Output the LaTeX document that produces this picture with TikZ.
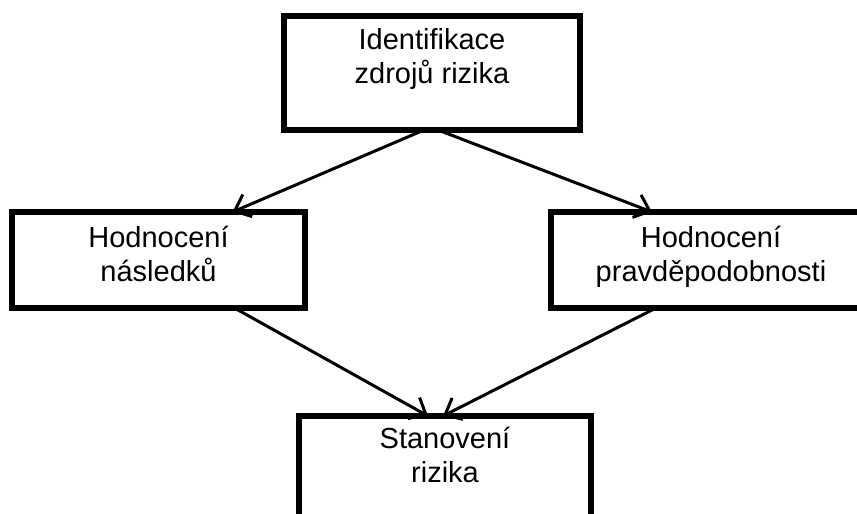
\documentclass[tikz,border=0pt]{standalone}
\usepackage{fontspec}
\setmainfont{Liberation Sans}
\usetikzlibrary{arrows.meta}
\tikzset{
  boxnode/.style={draw=black, line width=5.5pt, fill=white, inner sep=0pt, outer sep=0pt},
  txt/.style={inner sep=0pt, outer sep=0pt, align=center, anchor=north, font={\fontsize{29}{34}\selectfont}},
  arr/.style={draw=black, line width=3pt, -{Straight Barb[length=14pt,width=24pt,line width=3pt]}}
}
\begin{document}
\begin{tikzpicture}[x=1pt,y=-1pt]
\useasboundingbox (0,0) rectangle (857,514);
\clip (0,0) rectangle (857,514);
\fill[white] (0,0) rectangle (857,514);
\node[boxnode, minimum width=296pt, minimum height=114pt] (T) at (432,73) {};
\node[boxnode, minimum width=293pt, minimum height=96pt] (L) at (158.5,260) {};
\node[boxnode, minimum width=320pt, minimum height=96pt] (R) at (711,260) {};
\node[boxnode, minimum width=292pt, minimum height=112pt] (B) at (445,472) {};
\node[txt] (tT) at ([yshift=-12pt]T.north) {Identifikace\\zdrojů rizika};
\node[txt] (tL) at ([yshift=-14pt]L.north) {Hodnocení\\následků};
\node[txt] (tR) at ([yshift=-14pt]R.north) {Hodnocení\\pravděpodobnosti};
\node[txt] (tB) at ([yshift=-11pt]B.north) {Stanovení\\rizika};
\draw[arr] ([xshift=-8pt,yshift=0pt]T.south) -- ([xshift=74pt]L.north);
\draw[arr] ([xshift=6pt]T.south) -- ([xshift=-59pt]R.north);
\draw[arr] ([xshift=76pt]L.south) -- ([xshift=-17pt]B.north);
\draw[arr] ([xshift=-55pt]R.south) -- ([xshift=-2pt]B.north);
\end{tikzpicture}
\end{document}
